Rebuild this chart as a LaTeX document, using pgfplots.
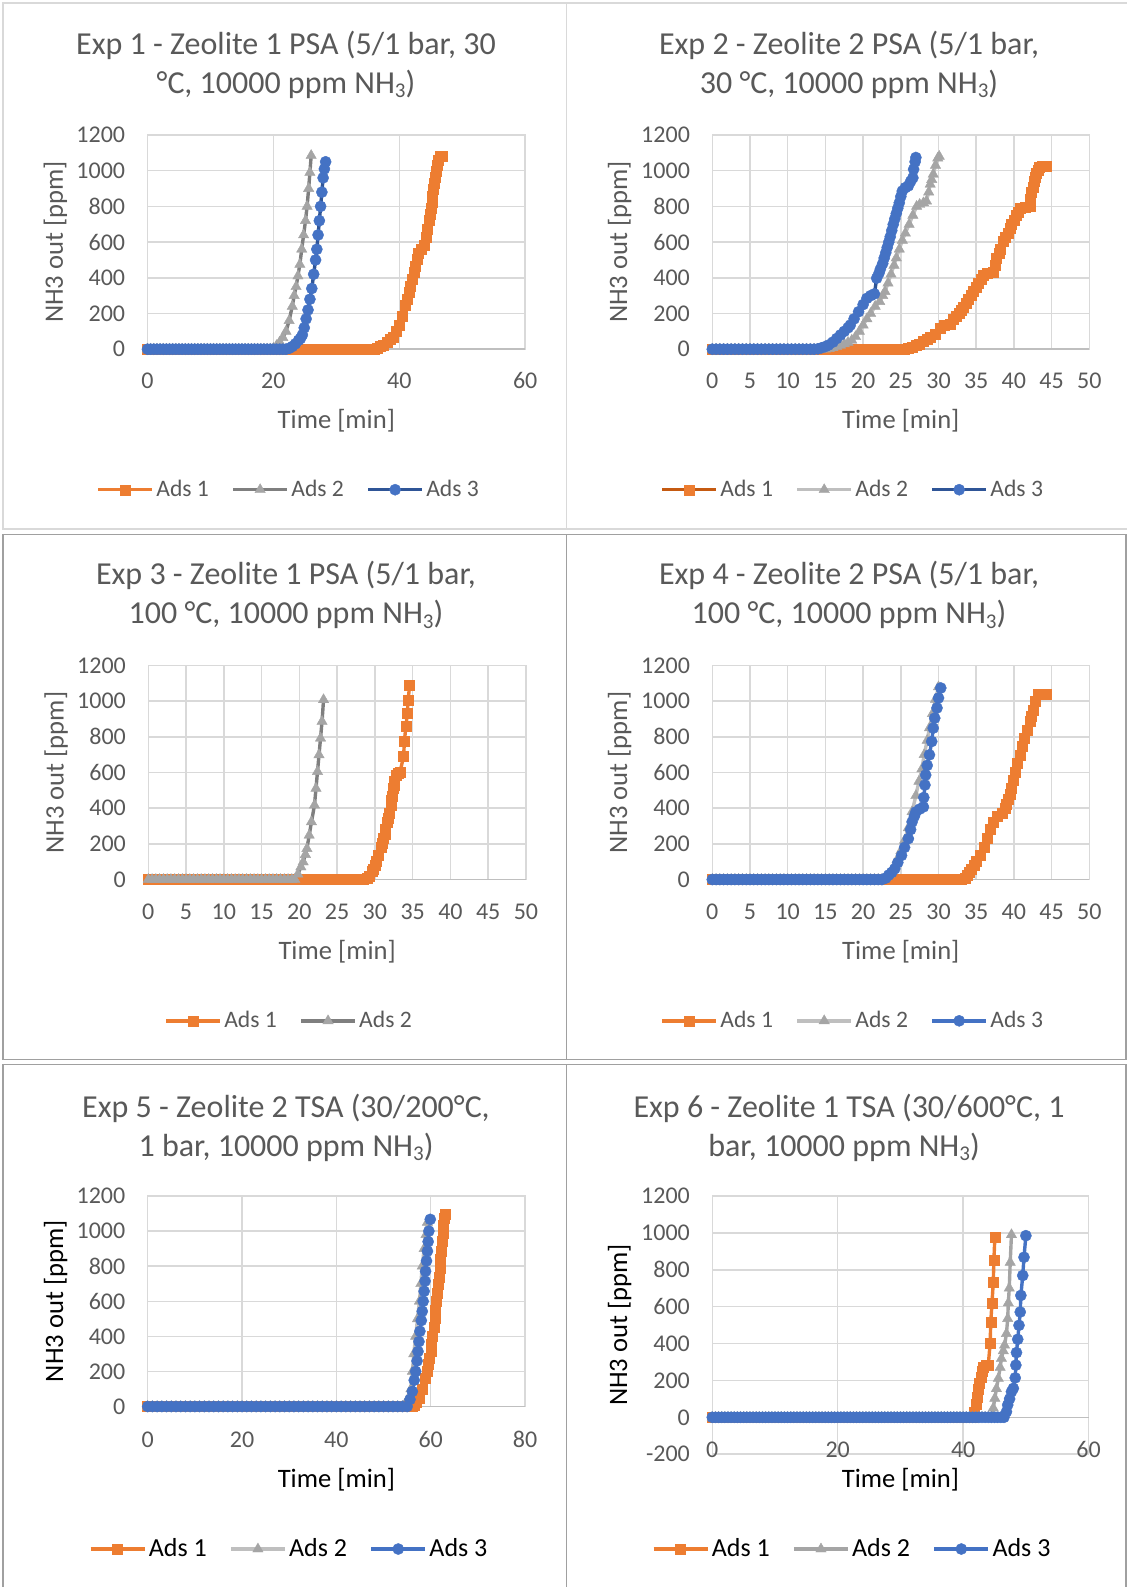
\documentclass[border=0pt]{standalone}
\usepackage{fontspec}
\setmainfont{Carlito}
\usepackage{pgfplots}
\pgfplotsset{compat=1.18}

\definecolor{orng}{HTML}{ED7D31}
\definecolor{gry}{HTML}{A5A5A5}
\definecolor{blu}{HTML}{4472C4}
\definecolor{dorng}{HTML}{C55A11}
\definecolor{dgry}{HTML}{7F7F7F}
\definecolor{lgry}{HTML}{BFBFBF}
\definecolor{dblu}{HTML}{2F5597}
\definecolor{txt}{HTML}{595959}
\definecolor{grd}{HTML}{D9D9D9}
\definecolor{brd}{HTML}{A0A0A0}

\newcommand\tfont{\fontsize{16}{19}\selectfont}
\newcommand\sub[1]{\raisebox{-0.32ex}{\fontsize{10.5}{12}\selectfont #1}}

\pgfplotsset{
  excel/.style={
    scale only axis, clip=false,
    grid=major, grid style={draw=grd, line width=0.75pt},
    axis line style={draw=grd, line width=0.75pt},
    major tick length=0pt,
    tick label style={font=\fontsize{12}{14}\selectfont, text=txt},
    /pgf/number format/assume math mode=true,
    /pgf/number format/1000 sep={},
    yticklabel style={anchor=east, inner sep=0pt, xshift=-11pt},
    xticklabel style={anchor=base, inner sep=0pt, yshift=-19.8pt},
    extra y ticks={0}, extra y tick labels={},
    extra y tick style={grid=major, grid style={draw=lgry, line width=0.75pt}},
    xlabel={Time [min]}, ylabel={NH3 out [ppm]},
    label style={font=\fontsize{13.3}{16}\selectfont, text=txt},
    ylabel style={at={(axis description cs:-0.244,0.5)}, anchor=center},
    xlabel style={at={(axis description cs:0.5,0)}, anchor=center, yshift=-35.9pt},
    ymin=0, ymax=1200, ytick={0,200,...,1200},
    legend columns=3,
    legend cell align=left,
    legend style={draw=none, fill=none, font=\fontsize{11.8}{14}\selectfont,
      at={(axis description cs:0.5,0)}, anchor=center,
      nodes={inner sep=1.25pt, text=txt},
      /tikz/every even column/.append style={column sep=10pt}},
    legend image code/.code={\draw[mark repeat=2, mark phase=2, ##1] plot coordinates {(0pt,0pt) (13.5pt,0pt) (27pt,0pt)};},
  },
  ads1/.style={color=#1, line width=1.7pt, mark=square*, mark size=2.5pt, mark options={fill=orng, draw=orng, line width=0.2pt}},
  ads2/.style={color=#1, line width=1.7pt, mark=triangle*, mark size=3pt, mark options={fill=gry, draw=gry, line width=0.2pt}},
  ads3/.style={color=#1, line width=1.7pt, mark=*, mark size=2.8pt, mark options={fill=blu, draw=blu, line width=0.2pt}},
  row3/.style={label style={text=black},
    legend style={font=\fontsize{13}{15}\selectfont, nodes={text=black}}},
}

\begin{document}
\begin{tikzpicture}
\useasboundingbox (0,0) rectangle (563.5pt,-793.5pt);
% panel frames
\draw[grd, line width=0.75pt] (600pt,-1.5pt) -- (1.5pt,-1.5pt) -- (1.5pt,-264.5pt) -- (600pt,-264.5pt);
\draw[grd, line width=0.75pt] (283.35pt,-1.5pt) -- (283.35pt,-264.5pt);
\draw[brd, line width=0.75pt] (1.5pt,-267.15pt) rectangle (563pt,-529.65pt);
\draw[brd, line width=0.75pt] (283.35pt,-267.15pt) -- (283.35pt,-529.65pt);
\draw[brd, line width=0.75pt] (1.5pt,-800pt) -- (1.5pt,-532.15pt) -- (563pt,-532.15pt) -- (563pt,-800pt);
\draw[brd, line width=0.75pt] (283.35pt,-532.15pt) -- (283.35pt,-800pt);

% titles
\begin{scope}[every node/.style={anchor=base, font=\tfont, text=txt, inner sep=0pt}]
\node at (143pt,-27pt) {Exp 1 - Zeolite 1 PSA (5/1 bar, 30};
\node at (143pt,-46.5pt) {°C, 10000 ppm NH\sub{3})};
\node at (424.5pt,-27pt) {Exp 2 - Zeolite 2 PSA (5/1 bar,};
\node at (424.5pt,-46.5pt) {30 °C, 10000 ppm NH\sub{3})};
\node at (143pt,-292.3pt) {Exp 3 - Zeolite 1 PSA (5/1 bar,};
\node at (143pt,-311.75pt) {100 °C, 10000 ppm NH\sub{3})};
\node at (424.5pt,-292.3pt) {Exp 4 - Zeolite 2 PSA (5/1 bar,};
\node at (424.5pt,-311.75pt) {100 °C, 10000 ppm NH\sub{3})};
\node at (143pt,-558.5pt) {Exp 5 - Zeolite 2 TSA (30/200°C,};
\node at (143pt,-578pt) {1 bar, 10000 ppm NH\sub{3})};
\node at (424.5pt,-558.5pt) {Exp 6 - Zeolite 1 TSA (30/600°C, 1};
\node at (422pt,-578pt) {bar, 10000 ppm NH\sub{3})};
\end{scope}

% Exp 1
\begin{axis}[excel, at={(73.75pt,-174.6pt)}, anchor=south west,
  width=188.85pt, height=107.1pt, xmin=0, xmax=60, xtick={0,20,40,60},
  legend style={xshift=-23.7pt, yshift=-70.25pt}]
\addplot[ads1=orng] coordinates {
(0,0)(0.5,0)(1,0)(1.5,0)(2,0)(2.5,0)(3,0)(3.5,0)(4,0)(4.5,0)(5,0)(5.5,0)(6,0)(6.5,0)(7,0)(7.5,0)(8,0)(8.5,0)(9,0)(9.5,0)
(10,0)(10.5,0)(11,0)(11.5,0)(12,0)(12.5,0)(13,0)(13.5,0)(14,0)(14.5,0)(15,0)(15.5,0)(16,0)(16.5,0)(17,0)(17.5,0)(18,0)(18.5,0)(19,0)(19.5,0)
(20,0)(20.5,0)(21,0)(21.5,0)(22,0)(22.5,0)(23,0)(23.5,0)(24,0)(24.5,0)(25,0)(25.5,0)(26,0)(26.5,0)(27,0)(27.5,0)(28,0)(28.5,0)(29,0)(29.5,0)
(30,0)(30.5,0)(31,0)(31.5,0)(32,0)(32.5,0)(33,0)(33.5,0)(34,0)(34.5,0)(35,0)(35.5,0)(36,0)
(36.5,5)(37,15)(37.5,25)(38,40)(38.5,55)(39,70)(39.5,100)(40,135)(40.5,185)(41,245)(41.3,280)(41.5,320)(41.8,355)(42,390)(42.3,430)(42.5,465)(42.8,505)(43,540)
(43.5,560)(44,580)(44.3,630)(44.5,675)(44.7,720)(44.85,755)(45,790)(45.15,825)(45.3,860)(45.45,895)(45.6,930)(45.75,965)(45.9,1000)(46.05,1030)(46.2,1060)(46.5,1080)(46.8,1080)};
\addplot[ads2=dgry] coordinates {
(0,0)(0.5,0)(1,0)(1.5,0)(2,0)(2.5,0)(3,0)(3.5,0)(4,0)(4.5,0)(5,0)(5.5,0)(6,0)(6.5,0)(7,0)(7.5,0)(8,0)(8.5,0)(9,0)(9.5,0)
(10,0)(10.5,0)(11,0)(11.5,0)(12,0)(12.5,0)(13,0)(13.5,0)(14,0)(14.5,0)(15,0)(15.5,0)(16,0)(16.5,0)(17,0)(17.5,0)(18,0)(18.5,0)(19,0)(19.5,0)
(20,5)(20.5,20)(21,40)(21.5,65)(22,100)(22.5,160)(23,240)(23.3,300)(23.6,350)(23.9,410)(24.2,475)(24.5,560)(24.8,640)
(25.1,720)(25.35,800)(25.6,900)(25.8,990)(26,1085)};
\addplot[ads3=dblu] coordinates {
(0,0)(0.5,0)(1,0)(1.5,0)(2,0)(2.5,0)(3,0)(3.5,0)(4,0)(4.5,0)(5,0)(5.5,0)(6,0)(6.5,0)(7,0)(7.5,0)(8,0)(8.5,0)(9,0)(9.5,0)
(10,0)(10.5,0)(11,0)(11.5,0)(12,0)(12.5,0)(13,0)(13.5,0)(14,0)(14.5,0)(15,0)(15.5,0)(16,0)(16.5,0)(17,0)(17.5,0)(18,0)(18.5,0)(19,0)(19.5,0)
(20,0)(20.5,0)(21,0)(21.5,0)(22,0)(22.5,5)(23,15)(23.5,30)(24,50)(24.3,60)(24.6,80)(24.9,120)(25.2,170)(25.5,220)(25.8,280)
(26.1,340)(26.4,420)(26.7,500)(26.9,560)(27.1,640)(27.3,720)(27.5,800)(27.7,880)(27.9,960)(28.1,1010)(28.3,1050)};
\legend{Ads 1, Ads 2, Ads 3}
\end{axis}

% Exp 2
\begin{axis}[excel, at={(356.15pt,-174.6pt)}, anchor=south west,
  width=188.5pt, height=107.1pt, xmin=0, xmax=50, xtick={0,5,...,50},
  ylabel style={at={(axis description cs:-0.246,0.5)}},
  legend style={xshift=-23.9pt, yshift=-70.25pt}]
\addplot[ads1=dorng] coordinates {
(0,0)(0.5,0)(1,0)(1.5,0)(2,0)(2.5,0)(3,0)(3.5,0)(4,0)(4.5,0)(5,0)(5.5,0)(6,0)(6.5,0)(7,0)(7.5,0)(8,0)(8.5,0)(9,0)(9.5,0)
(10,0)(10.5,0)(11,0)(11.5,0)(12,0)(12.5,0)(13,0)(13.5,0)(14,0)(14.5,0)(15,0)(15.5,0)(16,0)(16.5,0)(17,0)(17.5,0)(18,0)(18.5,0)(19,0)(19.5,0)
(20,0)(20.5,0)(21,0)(21.5,0)(22,0)(22.5,0)(23,0)(23.5,0)(24,0)(24.5,0)(25,0)(25.5,0)
(26,5)(26.5,12)(27,22)(27.5,30)(28,45)(28.5,55)(28.9,65)(29.5,85)(30.2,115)(30.8,135)(31.5,140)(32,170)(32.4,185)(32.7,200)(33,218)(33.3,235)
(33.7,260)(34,280)(34.3,300)(34.6,325)(35,350)(35.3,370)(35.6,392)(35.9,415)(36.5,425)(37.3,430)(37.5,470)(37.7,510)(38,540)(38.2,560)(38.6,605)(38.9,628)(39.2,650)(39.5,680)(39.7,700)(40,725)(40.3,750)
(40.6,770)(40.9,790)(41.5,795)(42.1,800)(42.2,840)(42.3,880)(42.5,910)(42.7,940)(42.85,965)(43,985)(43.2,1005)(43.4,1020)(43.8,1025)(44.3,1025)};
\addplot[ads2=lgry] coordinates {
(0,0)(0.5,0)(1,0)(1.5,0)(2,0)(2.5,0)(3,0)(3.5,0)(4,0)(4.5,0)(5,0)(5.5,0)(6,0)(6.5,0)(7,0)(7.5,0)(8,0)(8.5,0)(9,0)(9.5,0)
(10,0)(10.5,0)(11,0)(11.5,0)(12,0)(12.5,0)(13,0)(13.5,0)(14,0)(14.5,0)
(15,0)(15.5,3)(16,8)(16.5,15)(17,22)(17.5,30)(18,38)(18.5,50)(19,70)(19.5,100)(20,135)(20.5,170)(21,200)(21.6,240)(22.2,267)
(22.6,300)(22.9,323)(23.3,370)(23.7,420)(24.1,470)(24.4,511)(24.8,560)(25.2,610)(25.6,650)(26.1,699)(26.6,750)(27.1,800)
(27.5,811)(28,820)(28.4,830)(28.7,880)(28.9,924)(29.1,950)(29.3,980)(29.6,1030)(29.9,1070)(30.1,1080)};
\addplot[ads3=dblu] coordinates {
(0,0)(0.5,0)(1,0)(1.5,0)(2,0)(2.5,0)(3,0)(3.5,0)(4,0)(4.5,0)(5,0)(5.5,0)(6,0)(6.5,0)(7,0)(7.5,0)(8,0)(8.5,0)(9,0)(9.5,0)
(10,0)(10.5,0)(11,0)(11.5,0)(12,0)(12.5,0)(13,0)(13.5,0)
(14,2)(14.5,8)(15,15)(15.4,23)(16,40)(16.5,60)(17,80)(17.5,100)(18,120)(18.3,135)(18.8,170)(19.4,210)(20,250)(20.5,285)
(21,300)(21.5,310)(21.8,398)(22.1,425)(22.3,450)(22.6,480)(22.8,511)(23,540)(23.2,570)(23.4,600)(23.6,630)(23.8,665)(24,699)(24.2,730)(24.4,760)(24.6,790)(24.8,820)(25,855)(25.2,886)(25.6,905)
(26,915)(26.3,940)(26.6,960)(26.7,1008)(26.9,1050)(27,1074)};
\legend{Ads 1, Ads 2, Ads 3}
\end{axis}

% Exp 3
\begin{axis}[excel, at={(74.15pt,-439.75pt)}, anchor=south west,
  width=188.85pt, height=107pt, xmin=0, xmax=50, xtick={0,5,...,50},
  legend style={xshift=-23.9pt, yshift=-70.65pt}]
\addplot[ads1=orng] coordinates {
(0,0)(0.5,0)(1,0)(1.5,0)(2,0)(2.5,0)(3,0)(3.5,0)(4,0)(4.5,0)(5,0)(5.5,0)(6,0)(6.5,0)(7,0)(7.5,0)(8,0)(8.5,0)(9,0)(9.5,0)
(10,0)(10.5,0)(11,0)(11.5,0)(12,0)(12.5,0)(13,0)(13.5,0)(14,0)(14.5,0)(15,0)(15.5,0)(16,0)(16.5,0)(17,0)(17.5,0)(18,0)(18.5,0)(19,0)(19.5,0)
(20,0)(20.5,0)(21,0)(21.5,0)(22,0)(22.5,0)(23,0)(23.5,0)(24,0)(24.5,0)(25,0)(25.5,0)(26,0)(26.5,0)(27,0)(27.5,0)(28,0)(28.5,0)
(29,5)(29.3,20)(29.6,45)(29.8,60)(30,80)(30.2,100)(30.5,135)(30.8,180)(31,205)(31.1,229)(31.3,255)(31.4,280)(31.6,323)(31.75,345)(31.9,370)(32.1,417)(32.2,445)(32.3,470)
(32.4,511)(32.5,530)(32.6,550)(32.8,586)(33.1,595)(33.3,600)(33.8,689)(33.9,774)(34.1,858)(34.3,933)(34.4,1008)(34.6,1089)};
\addplot[ads2=dgry] coordinates {
(0,0)(0.5,0)(1,0)(1.5,0)(2,0)(2.5,0)(3,0)(3.5,0)(4,0)(4.5,0)(5,0)(5.5,0)(6,0)(6.5,0)(7,0)(7.5,0)(8,0)(8.5,0)(9,0)(9.5,0)
(10,0)(10.5,0)(11,0)(11.5,0)(12,0)(12.5,0)(13,0)(13.5,0)(14,0)(14.5,0)(15,0)(15.5,0)(16,0)(16.5,0)(17,0)(17.5,0)(18,0)(18.5,0)(19,0)
(19.4,0)(19.8,30)(20.2,70)(20.5,98)(20.8,140)(21,173)(21.3,248)(21.6,323)(22,417)(22.2,511)(22.4,605)(22.6,699)(22.8,792)
(23,886)(23.2,1008)};
\legend{Ads 1, Ads 2}
\end{axis}

% Exp 4
\begin{axis}[excel, at={(356.15pt,-439.75pt)}, anchor=south west,
  width=188.5pt, height=107pt, xmin=0, xmax=50, xtick={0,5,...,50},
  ylabel style={at={(axis description cs:-0.246,0.5)}},
  legend style={xshift=-23.9pt, yshift=-70.65pt}]
\addplot[ads1=orng] coordinates {
(0,0)(0.5,0)(1,0)(1.5,0)(2,0)(2.5,0)(3,0)(3.5,0)(4,0)(4.5,0)(5,0)(5.5,0)(6,0)(6.5,0)(7,0)(7.5,0)(8,0)(8.5,0)(9,0)(9.5,0)
(10,0)(10.5,0)(11,0)(11.5,0)(12,0)(12.5,0)(13,0)(13.5,0)(14,0)(14.5,0)(15,0)(15.5,0)(16,0)(16.5,0)(17,0)(17.5,0)(18,0)(18.5,0)(19,0)(19.5,0)
(20,0)(20.5,0)(21,0)(21.5,0)(22,0)(22.5,0)(23,0)(23.5,0)(24,0)(24.5,0)(25,0)(25.5,0)(26,0)(26.5,0)(27,0)(27.5,0)(28,0)(28.5,0)(29,0)(29.5,0)
(30,0)(30.5,0)(31,0)(31.5,0)(32,0)(32.5,0)(33,0)
(33.5,10)(33.8,25)(34.1,40)(34.4,60)(34.7,80)(35,100)(35.5,135)(36,180)(36.4,229)(36.9,280)(37.3,323)(37.8,355)(38.4,370)
(38.8,398)(39,425)(39.2,450)(39.45,480)(39.7,511)(39.95,555)(40.2,600)(40.5,650)(40.8,699)(41.1,745)(41.4,790)(41.75,840)(42.1,886)(42.3,918)(42.5,950)(42.8,999)(43.2,1040)(43.7,1040)(44.3,1040)};
\addplot[ads2=lgry] coordinates {
(0,0)(0.5,0)(1,0)(1.5,0)(2,0)(2.5,0)(3,0)(3.5,0)(4,0)(4.5,0)(5,0)(5.5,0)(6,0)(6.5,0)(7,0)(7.5,0)(8,0)(8.5,0)(9,0)(9.5,0)
(10,0)(10.5,0)(11,0)(11.5,0)(12,0)(12.5,0)(13,0)(13.5,0)(14,0)(14.5,0)(15,0)(15.5,0)(16,0)(16.5,0)(17,0)(17.5,0)(18,0)(18.5,0)(19,0)(19.5,0)
(20,0)(20.5,0)(21,0)(21.5,0)(22,0)(22.5,0)
(23,10)(23.5,30)(24,60)(24.5,110)(25,160)(25.5,220)(26,290)(26.5,380)(27,470)(27.4,550)(27.8,620)(28.1,700)(28.5,780)
(28.8,850)(29.2,930)(29.6,1010)(30,1080)};
\addplot[ads3=blu] coordinates {
(0,0)(0.5,0)(1,0)(1.5,0)(2,0)(2.5,0)(3,0)(3.5,0)(4,0)(4.5,0)(5,0)(5.5,0)(6,0)(6.5,0)(7,0)(7.5,0)(8,0)(8.5,0)(9,0)(9.5,0)
(10,0)(10.5,0)(11,0)(11.5,0)(12,0)(12.5,0)(13,0)(13.5,0)(14,0)(14.5,0)(15,0)(15.5,0)(16,0)(16.5,0)(17,0)(17.5,0)(18,0)(18.5,0)(19,0)(19.5,0)
(20,0)(20.5,0)(21,0)(21.5,0)(22,0)(22.5,0)
(23,8)(23.4,25)(23.8,40)(24.2,60)(24.6,95)(25.1,135)(25.5,180)(26,229)(26.3,280)(26.5,323)(26.8,355)(27,379)(27.5,395)
(28,407)(28.05,460)(28.2,530)(28.3,586)(28.5,640)(28.8,699)(29.1,774)(29.3,849)(29.5,905)(29.8,962)(30,1018)(30.3,1074)};
\legend{Ads 1, Ads 2, Ads 3}
\end{axis}

% Exp 5
\begin{axis}[excel, row3, at={(73.85pt,-703.25pt)}, anchor=south west,
  width=188.7pt, height=105.25pt, xmin=0, xmax=80, xtick={0,20,...,80},
  xticklabel style={yshift=-0.7pt}, xlabel style={yshift=-0.55pt},
  legend style={xshift=-23.5pt, yshift=-71.25pt}]
\addplot[ads1=orng] coordinates {
(0,0)(1,0)(2,0)(3,0)(4,0)(5,0)(6,0)(7,0)(8,0)(9,0)(10,0)(11,0)(12,0)(13,0)(14,0)(15,0)(16,0)(17,0)(18,0)(19,0)
(20,0)(21,0)(22,0)(23,0)(24,0)(25,0)(26,0)(27,0)(28,0)(29,0)(30,0)(31,0)(32,0)(33,0)(34,0)(35,0)(36,0)(37,0)(38,0)(39,0)
(40,0)(41,0)(42,0)(43,0)(44,0)(45,0)(46,0)(47,0)(48,0)(49,0)(50,0)(51,0)(52,0)(53,0)(54,0)(55,0)(56,0)
(56.5,8)(57,25)(57.5,48)(58.2,100)(58.9,162)(59.2,200)(59.5,240)(59.75,275)(60,314)(60.2,355)(60.4,400)(60.65,450)(60.9,505)(61.05,550)(61.2,600)(61.4,645)(61.6,695)(61.75,740)(61.9,790)
(62.1,840)(62.3,886)(62.5,940)(62.6,990)(62.7,1035)(62.8,1076)(63,1095)};
\addplot[ads2=lgry] coordinates {
(0,0)(1,0)(2,0)(3,0)(4,0)(5,0)(6,0)(7,0)(8,0)(9,0)(10,0)(11,0)(12,0)(13,0)(14,0)(15,0)(16,0)(17,0)(18,0)(19,0)
(20,0)(21,0)(22,0)(23,0)(24,0)(25,0)(26,0)(27,0)(28,0)(29,0)(30,0)(31,0)(32,0)(33,0)(34,0)(35,0)(36,0)(37,0)(38,0)(39,0)
(40,0)(41,0)(42,0)(43,0)(44,0)(45,0)(46,0)(47,0)(48,0)(49,0)(50,0)(51,0)(52,0)(53,0)(54,0)
(54.8,0)(55.3,50)(55.8,100)(56.1,200)(56.4,300)(56.8,400)(57.2,500)(57.6,600)(57.9,700)(58.2,800)(58.6,900)(59,980)(59.3,1050)};
\addplot[ads3=blu] coordinates {
(0,0)(1,0)(2,0)(3,0)(4,0)(5,0)(6,0)(7,0)(8,0)(9,0)(10,0)(11,0)(12,0)(13,0)(14,0)(15,0)(16,0)(17,0)(18,0)(19,0)
(20,0)(21,0)(22,0)(23,0)(24,0)(25,0)(26,0)(27,0)(28,0)(29,0)(30,0)(31,0)(32,0)(33,0)(34,0)(35,0)(36,0)(37,0)(38,0)(39,0)
(40,0)(41,0)(42,0)(43,0)(44,0)(45,0)(46,0)(47,0)(48,0)(49,0)(50,0)(51,0)(52,0)(53,0)(54,0)(55,0)
(55.6,40)(56.1,86)(56.5,150)(56.8,200)(57.1,260)(57.3,314)(57.5,370)(57.7,429)(58,490)(58.2,543)(58.4,600)(58.6,657)
(58.8,715)(58.9,771)(59.1,830)(59.3,886)(59.45,940)(59.6,1000)(59.9,1067)};
\legend{Ads 1, Ads 2, Ads 3}
\end{axis}

% Exp 6
\begin{axis}[excel, row3, at={(356.15pt,-727.1pt)}, anchor=south west,
  width=188.15pt, height=129.1pt, xmin=0, xmax=60, xtick={0,20,40,60},
  ymin=-200, ymax=1200, ytick={-200,0,...,1200},
  ylabel style={at={(axis description cs:-0.246,0.5)}},
  xticklabel style={yshift=17.95pt}, xlabel style={yshift=23.3pt},
  legend style={xshift=-24pt, yshift=-47.4pt}]
\addplot[ads1=orng] coordinates {
(0,0)(0.5,0)(1,0)(1.5,0)(2,0)(2.5,0)(3,0)(3.5,0)(4,0)(4.5,0)(5,0)(5.5,0)(6,0)(6.5,0)(7,0)(7.5,0)(8,0)(8.5,0)(9,0)(9.5,0)
(10,0)(10.5,0)(11,0)(11.5,0)(12,0)(12.5,0)(13,0)(13.5,0)(14,0)(14.5,0)(15,0)(15.5,0)(16,0)(16.5,0)(17,0)(17.5,0)(18,0)(18.5,0)(19,0)(19.5,0)
(20,0)(20.5,0)(21,0)(21.5,0)(22,0)(22.5,0)(23,0)(23.5,0)(24,0)(24.5,0)(25,0)(25.5,0)(26,0)(26.5,0)(27,0)(27.5,0)(28,0)(28.5,0)(29,0)(29.5,0)
(30,0)(30.5,0)(31,0)(31.5,0)(32,0)(32.5,0)(33,0)(33.5,0)(34,0)(34.5,0)(35,0)(35.5,0)(36,0)(36.5,0)(37,0)(37.5,0)(38,0)(38.5,0)(39,0)(39.5,0)
(40,0)(40.5,0)(41,0)(41.5,0)
(41.8,30)(42,70)(42.2,110)(42.4,150)(42.6,185)(42.8,220)(43,250)(43.2,274)(43.6,280)(44,283)(44.3,400)(44.4,517)(44.6,621)
(44.8,733)(44.9,850)(45.05,976)};
\addplot[ads2=gry] coordinates {
(0,0)(0.5,0)(1,0)(1.5,0)(2,0)(2.5,0)(3,0)(3.5,0)(4,0)(4.5,0)(5,0)(5.5,0)(6,0)(6.5,0)(7,0)(7.5,0)(8,0)(8.5,0)(9,0)(9.5,0)
(10,0)(10.5,0)(11,0)(11.5,0)(12,0)(12.5,0)(13,0)(13.5,0)(14,0)(14.5,0)(15,0)(15.5,0)(16,0)(16.5,0)(17,0)(17.5,0)(18,0)(18.5,0)(19,0)(19.5,0)
(20,0)(20.5,0)(21,0)(21.5,0)(22,0)(22.5,0)(23,0)(23.5,0)(24,0)(24.5,0)(25,0)(25.5,0)(26,0)(26.5,0)(27,0)(27.5,0)(28,0)(28.5,0)(29,0)(29.5,0)
(30,0)(30.5,0)(31,0)(31.5,0)(32,0)(32.5,0)(33,0)(33.5,0)(34,0)(34.5,0)(35,0)(35.5,0)(36,0)(36.5,0)(37,0)(37.5,0)(38,0)(38.5,0)(39,0)(39.5,0)
(40,0)(40.5,0)(41,0)(41.5,0)(42,0)(42.5,0)(43,0)(43.5,0)(44,0)(44.5,0)
(44.8,50)(45.05,103)(45.3,155)(45.6,211)(45.9,270)(46.1,319)(46.4,360)(46.6,391)(46.9,454)(47.1,535)(47.2,620)(47.35,700)
(47.5,840)(47.7,990)};
\addplot[ads3=blu] coordinates {
(0,0)(0.5,0)(1,0)(1.5,0)(2,0)(2.5,0)(3,0)(3.5,0)(4,0)(4.5,0)(5,0)(5.5,0)(6,0)(6.5,0)(7,0)(7.5,0)(8,0)(8.5,0)(9,0)(9.5,0)
(10,0)(10.5,0)(11,0)(11.5,0)(12,0)(12.5,0)(13,0)(13.5,0)(14,0)(14.5,0)(15,0)(15.5,0)(16,0)(16.5,0)(17,0)(17.5,0)(18,0)(18.5,0)(19,0)(19.5,0)
(20,0)(20.5,0)(21,0)(21.5,0)(22,0)(22.5,0)(23,0)(23.5,0)(24,0)(24.5,0)(25,0)(25.5,0)(26,0)(26.5,0)(27,0)(27.5,0)(28,0)(28.5,0)(29,0)(29.5,0)
(30,0)(30.5,0)(31,0)(31.5,0)(32,0)(32.5,0)(33,0)(33.5,0)(34,0)(34.5,0)(35,0)(35.5,0)(36,0)(36.5,0)(37,0)(37.5,0)(38,0)(38.5,0)(39,0)(39.5,0)
(40,0)(40.5,0)(41,0)(41.5,0)(42,0)(42.5,0)(43,0)(43.5,0)(44,0)(44.5,0)(45,0)(45.5,0)(46,0)(46.5,0)
(46.9,30)(47.1,67)(47.4,100)(47.7,139)(48,157)(48.3,214)(48.4,283)(48.5,351)(48.7,423)(48.9,499)(49.1,571)(49.2,661)
(49.5,769)(49.7,868)(50,985)};
\legend{Ads 1, Ads 2, Ads 3}
\end{axis}
\end{tikzpicture}
\end{document}
